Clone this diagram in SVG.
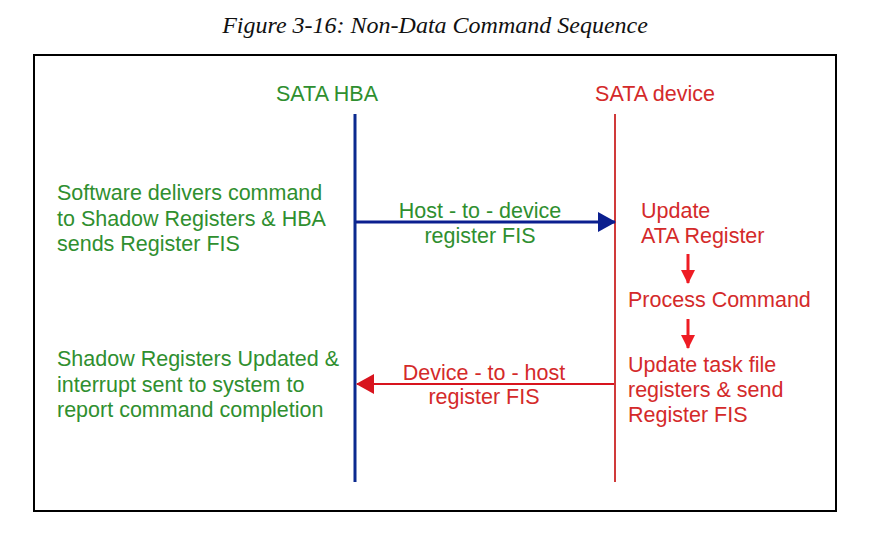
<svg xmlns="http://www.w3.org/2000/svg" width="892" height="543" viewBox="0 0 892 543">
<defs>
<style>
.t{font-family:"Liberation Sans",Arial,sans-serif;font-size:21.5px}
.g{fill:#2f8f2f}
.r{fill:#d42a2a}
.title{font-family:"Liberation Serif","Times New Roman",serif;font-style:italic;font-size:24px;fill:#111}
</style>
<marker id="ab" markerWidth="18" markerHeight="20" refX="17" refY="10" orient="auto" markerUnits="userSpaceOnUse"><path d="M0,0 L18,10 L0,20 Z" fill="#0b1f8f"/></marker>
<marker id="ar" markerWidth="18" markerHeight="20" refX="17" refY="10" orient="auto" markerUnits="userSpaceOnUse"><path d="M0,0 L18,10 L0,20 Z" fill="#d8141e"/></marker>
<marker id="ad" markerWidth="14" markerHeight="14" refX="13" refY="7" orient="auto" markerUnits="userSpaceOnUse"><path d="M0,0 L14,7 L0,14 Z" fill="#ee1c24"/></marker>
</defs>
<rect width="892" height="543" fill="#fff"/>
<text class="title" x="435" y="33" text-anchor="middle">Figure 3-16: Non-Data Command Sequence</text>
<rect x="34" y="55" width="802" height="456" fill="none" stroke="#000" stroke-width="2"/>
<g id="hba">
<text class="t g" x="327" y="101" text-anchor="middle">SATA HBA</text>
<line x1="355" y1="114" x2="355" y2="482" stroke="#0b2a8f" stroke-width="3"/>
</g>
<g id="device">
<text class="t r" x="655" y="101" text-anchor="middle">SATA device</text>
<line x1="615" y1="114" x2="615" y2="482" stroke="#d03a3a" stroke-width="2"/>
</g>
<g id="hostnote">
<text class="t g" x="57" y="200">Software delivers command</text>
<text class="t g" x="57" y="226">to Shadow Registers &amp; HBA</text>
<text class="t g" x="57" y="251">sends Register FIS</text>
</g>
<g id="hostdone">
<text class="t g" x="57" y="366">Shadow Registers Updated &amp;</text>
<text class="t g" x="57" y="392">interrupt sent to system to</text>
<text class="t g" x="57" y="417">report command completion</text>
</g>
<g id="update">
<text class="t r" x="641" y="218">Update</text>
<text class="t r" x="641" y="243">ATA Register</text>
</g>
<g id="process">
<text class="t r" x="628" y="307">Process Command</text>
</g>
<g id="taskfile">
<text class="t r" x="628" y="372">Update task file</text>
<text class="t r" x="628" y="397">registers &amp; send</text>
<text class="t r" x="628" y="422">Register FIS</text>
</g>
<g id="connectors">
<line x1="356" y1="222" x2="615" y2="222" stroke="#0b1f8f" stroke-width="3" marker-end="url(#ab)"/>
<text class="t g" x="480" y="218" text-anchor="middle">Host - to - device</text>
<text class="t g" x="480" y="243" text-anchor="middle">register FIS</text>
<line x1="614" y1="384" x2="357" y2="384" stroke="#d8141e" stroke-width="2" marker-end="url(#ar)"/>
<text class="t r" x="484" y="380" text-anchor="middle">Device - to - host</text>
<text class="t r" x="484" y="404" text-anchor="middle">register FIS</text>
<line x1="688" y1="254" x2="688" y2="283" stroke="#ee1c24" stroke-width="3" marker-end="url(#ad)"/>
<line x1="688" y1="319" x2="688" y2="348" stroke="#ee1c24" stroke-width="3" marker-end="url(#ad)"/>
</g>
</svg>
